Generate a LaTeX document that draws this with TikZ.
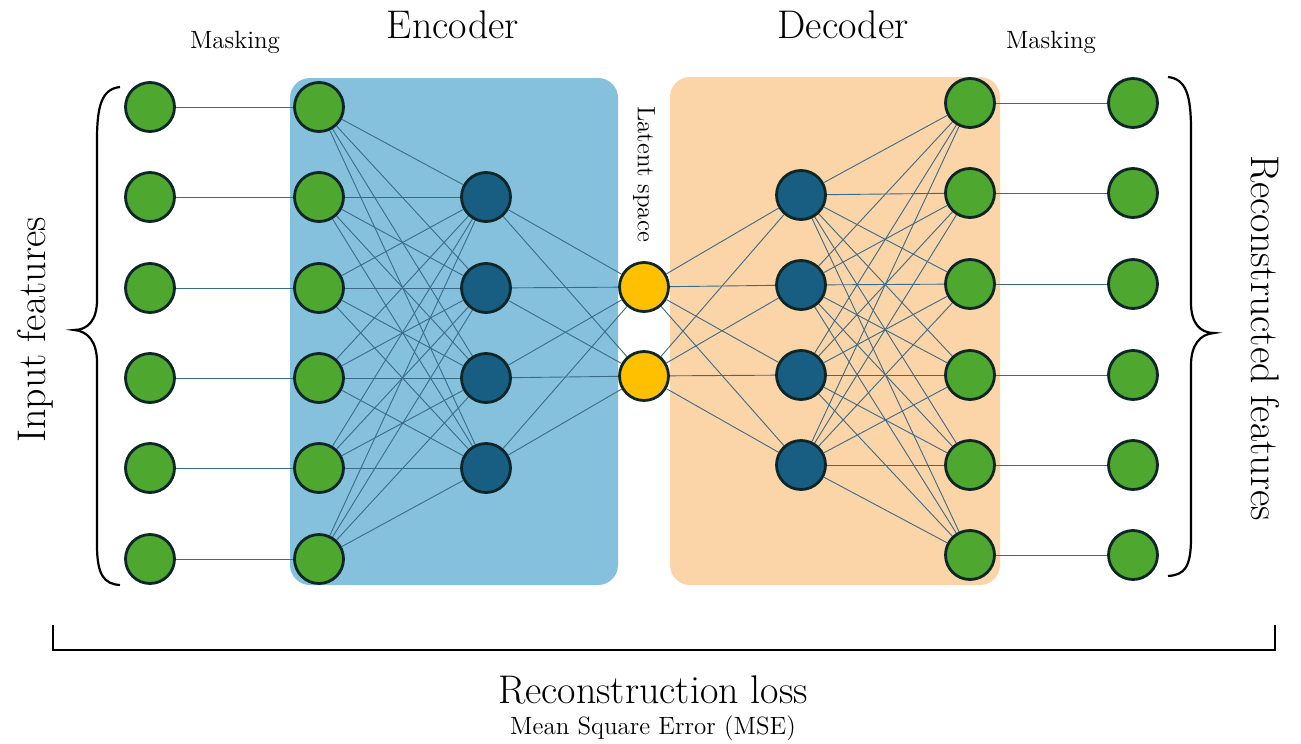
\documentclass[tikz,border=0pt]{standalone}
\usetikzlibrary{backgrounds}
\definecolor{featgreen}{RGB}{78,167,46}
\definecolor{hidblue}{RGB}{24,94,130}
\definecolor{latyellow}{RGB}{255,192,0}
\definecolor{encbox}{RGB}{133,193,220}
\definecolor{decbox}{RGB}{251,213,168}
\definecolor{wirecol}{RGB}{58,108,138}
\definecolor{rimcol}{RGB}{14,38,40}
\begin{document}
\begin{tikzpicture}[
  x=0.5pt, y=-0.5pt,
  neuron/.style={circle, draw=rimcol, line width=1.4pt, minimum size=24.5pt, inner sep=0pt},
  feat/.style={neuron, fill=featgreen},
  hid/.style={neuron, fill=hidblue},
  lat/.style={neuron, fill=latyellow},
  wire/.style={draw=wirecol, line width=0.45pt},
  bracket/.style={draw=black, line width=1.1pt},
  bigtxt/.style={font=\fontsize{20}{24}\selectfont},
  smalltxt/.style={font=\fontsize{12.5}{15}\selectfont}
]
\useasboundingbox (0,0) rectangle (1301,744);

% neurons
\foreach \y [count=\i] in {107,197,288,378,468,559} {
  \node[feat] (in\i) at (150,\y) {};
  \node[feat] (en\i) at (319,\y) {};
}
\foreach \y [count=\i] in {197,288,378,468}
  \node[hid] (eh\i) at (486,\y) {};
\node[lat] (z1) at (644,287) {};
\node[lat] (z2) at (644,376) {};
\foreach \y [count=\i] in {195,285,375,465}
  \node[hid] (dh\i) at (801,\y) {};
\foreach \y [count=\i] in {103,193,284,375,465,555} {
  \node[feat] (de\i) at (970,\y) {};
  \node[feat] (out\i) at (1133,\y) {};
}

% boxes and wires
\begin{scope}[on background layer]
  \fill[encbox, rounded corners=10pt] (290,78) rectangle (618,585);
  \fill[decbox, rounded corners=10pt] (670,77) rectangle (1000,585);
  \foreach \i in {1,...,6} {
    \draw[wire] (in\i) -- (en\i);
    \draw[wire] (de\i) -- (out\i);
    \foreach \j in {1,...,4} {
      \draw[wire] (en\i) -- (eh\j);
      \draw[wire] (dh\j) -- (de\i);
    }
  }
  \foreach \j in {1,...,4} {
    \draw[wire] (eh\j) -- (z1);
    \draw[wire] (eh\j) -- (z2);
    \draw[wire] (z1) -- (dh\j);
    \draw[wire] (z2) -- (dh\j);
  }
\end{scope}

% braces
\draw[bracket] (120,87) .. controls (102,89) and (97,105) .. (97,140)
  -- (97,300) .. controls (97,320) and (88,330) .. (74,330)
  .. controls (88,331) and (97,342) .. (97,362)
  -- (97,545) .. controls (97,575) and (104,584) .. (120,585);
\draw[bracket] (1168,77) .. controls (1186,79) and (1191,95) .. (1191,130)
  -- (1191,303) .. controls (1191,323) and (1200,333) .. (1214,333)
  .. controls (1200,334) and (1191,345) .. (1191,365)
  -- (1191,538) .. controls (1191,568) and (1184,575) .. (1168,576);
\draw[bracket] (53,625) -- (53,650) -- (1275,650) -- (1275,625);

% labels
\node[smalltxt] (maskin) at (235,42) {Masking};
\node[bigtxt] (enc) at (453,25) {Encoder};
\node[bigtxt] (dec) at (843,25) {Decoder};
\node[smalltxt] (maskout) at (1051,42) {Masking};
\node[smalltxt, rotate=-90] (latent) at (644,174) {Latent space};
\node[bigtxt, rotate=90] (infeat) at (35,330) {Input features};
\node[bigtxt, rotate=-90] (recfeat) at (1265,338) {Reconstructed features};
\node[bigtxt] (loss) at (653,690) {Reconstruction loss};
\node[smalltxt] (mse) at (653,728) {Mean Square Error (MSE)};
\end{tikzpicture}
\end{document}
